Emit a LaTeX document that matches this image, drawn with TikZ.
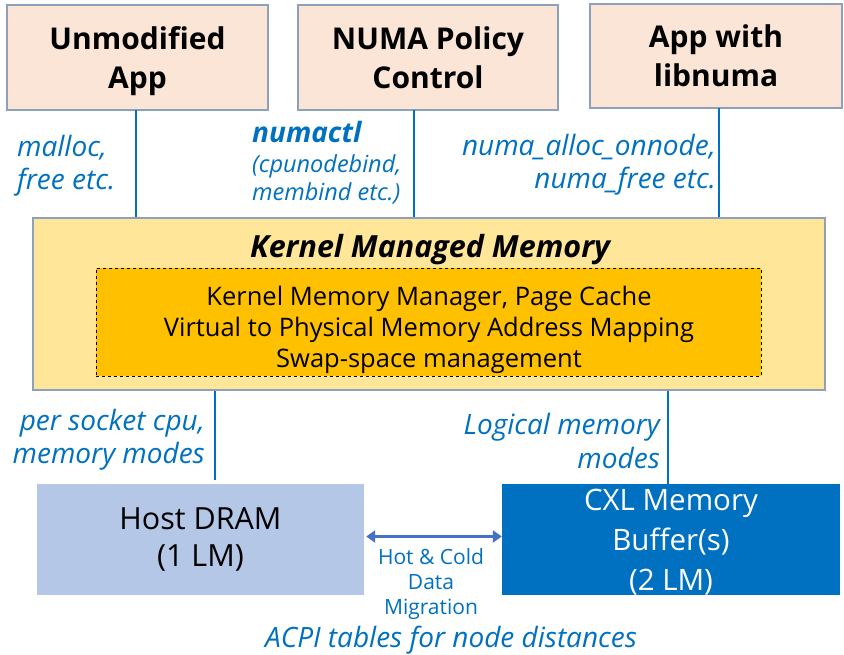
\documentclass[tikz,border=0pt]{standalone}
\usepackage{fontspec}
\setmainfont{Open Sans}
\usetikzlibrary{arrows.meta}
\definecolor{peach}{HTML}{FBE5D6}
\definecolor{frame}{HTML}{8FA0BA}
\definecolor{kern}{HTML}{FFE699}
\definecolor{amber}{HTML}{FFC000}
\definecolor{dram}{HTML}{B4C7E7}
\definecolor{cxl}{HTML}{0070C0}
\definecolor{ink}{HTML}{0070C0}
\definecolor{arrowblue}{HTML}{4472C4}
\newcommand{\firstline}{\rule{0pt}{34.3pt}}
\tikzset{
  appbox/.style={draw=frame, line width=2.2pt, fill=peach, align=center,
    font=\fontsize{30}{39}\selectfont\bfseries, inner sep=0pt},
  kernbox/.style={draw=frame, line width=2.2pt, fill=kern, inner sep=0pt},
  corebox/.style={draw=black, dashed, line width=0.6pt, fill=amber, inner sep=0pt},
  coretext/.style={align=center, font=\fontsize{25.5}{31}\selectfont, inner sep=0pt},
  membox/.style={align=center, inner sep=0pt, font=\fontsize{30.5}{37}\selectfont},
  link/.style={draw=ink, line width=1.6pt},
  note/.style={text=ink, font=\fontsize{28}{33.5}\selectfont\itshape, inner sep=0pt},
  smallnote/.style={text=ink, font=\fontsize{23.5}{28.5}\selectfont\itshape, inner sep=0pt},
}
\begin{document}
\begin{tikzpicture}[x=1pt,y=-1pt]
\useasboundingbox (0,0) rectangle (844,655);

% application layer
\node[appbox, minimum width=261pt, minimum height=105pt] (unmod) at (137.5,57.5) {\firstline Unmodified\\App\strut};
\node[appbox, minimum width=260pt, minimum height=105pt] (policy) at (428,57.5) {\firstline NUMA Policy\\Control\strut};
\node[appbox, minimum width=252pt, minimum height=104pt] (libnuma) at (716,56) {\firstline App with\\libnuma\strut};

% kernel layer
\node[kernbox, minimum width=792pt, minimum height=172pt] (kernel) at (429,304) {};
\node[font=\fontsize{30.5}{34}\selectfont\bfseries\itshape, inner sep=0pt] (ktitle) at (430,250) {Kernel Managed Memory};
\node[corebox, minimum width=665pt, minimum height=108pt] (core) at (428.5,322) {};
\node[coretext] (coretxt) at (429,330)
  {Kernel Memory Manager, Page Cache\\Virtual to Physical Memory Address Mapping\\Swap-space management};

% memory devices
\node[membox, fill=dram, minimum width=327pt, minimum height=111pt] (dram) at (200.5,539.5) {Host DRAM\\(1 LM)};
\node[membox, fill=cxl, text=white, minimum width=338pt, minimum height=111pt, font=\fontsize{29.5}{40}\selectfont] (cxlbuf) at (671,539.5)
  {\rule{0pt}{26pt}CXL Memory\\Buffer(s)\\(2 LM)};

% connection points
\coordinate (pA) at (136,110);
\coordinate (pB) at (414,110);
\coordinate (pC) at (719,108);
\coordinate (pD) at (215,480);
\coordinate (pE) at (668,484);

\draw[link] (pA) -- (pA |- kernel.north);
\draw[link] (pB) -- (pB |- kernel.north);
\draw[link] (pC) -- (pC |- kernel.north);
\draw[link] (pD |- kernel.south) -- (pD);
\draw[link] (pE |- kernel.south) -- (pE);

% migration arrow
\draw[draw=arrowblue, line width=2.6pt, {Triangle[length=9pt,width=12pt]}-{Triangle[length=9pt,width=12pt]}]
  (dram.east) ++(2,-3) coordinate (mL) -- (mL -| cxlbuf.west) coordinate (mR);
\node[text=ink, align=center, font=\fontsize{21}{25}\selectfont, inner sep=0pt] (mig) at (431,584) {Hot \& Cold\\Data\\Migration};

% interface labels
\node[note, anchor=west, align=left] (lmalloc) at (17,165.5) {malloc,\\free etc.};
\node[text=ink, anchor=west, inner sep=0pt, font=\fontsize{28}{30}\selectfont\bfseries\itshape] (lnumactl) at (252,132) {numactl};
\node[smallnote, anchor=west, align=left] (lbind) at (252,179.5) {(cpunodebind,\\membind etc.)};
\node[note, anchor=east, align=right] (llib) at (716,164.5) {numa\_alloc\_onnode,\\numa\_free etc.};
\node[note, anchor=east, align=right] (lsocket) at (205,439.5) {per socket cpu,\\memory modes};
\node[note, anchor=east, align=right] (llogic) at (660,441) {Logical memory\\modes};
\node[note] (lacpi) at (451,640) {ACPI tables for node distances};
\end{tikzpicture}
\end{document}
